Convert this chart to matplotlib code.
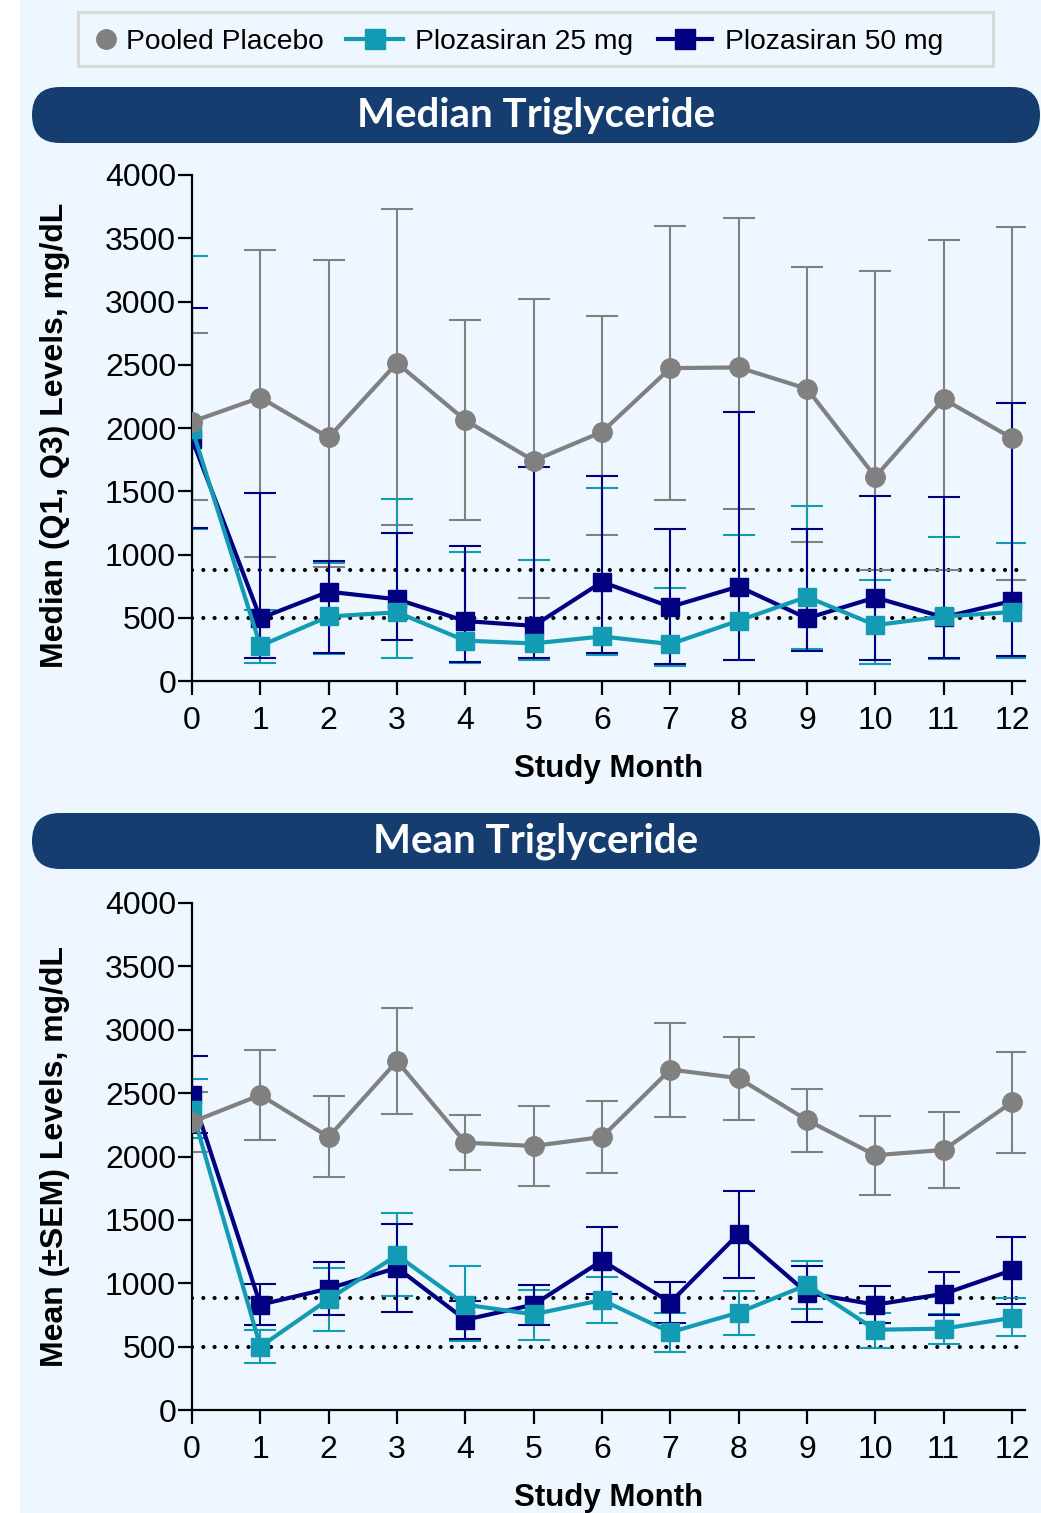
import matplotlib
matplotlib.use("Agg")
import matplotlib.pyplot as plt
import numpy as np
from matplotlib.patches import FancyBboxPatch, Rectangle

plt.rcParams["font.family"] = ["Liberation Sans", "DejaVu Sans"]

months = np.arange(13)

# ---- median triglyceride (Q1, Q3) ----
med_pbo = [2050, 2241, 1925, 2514, 2061, 1742, 1969, 2473, 2479, 2310, 1614, 2228, 1920]
med_pbo_q1 = [1429, 979, 900, 1233, 1271, 654, 1156, 1429, 1361, 1096, 878, 878, 796]
med_pbo_q3 = [2754, 3408, 3330, 3730, 2852, 3021, 2882, 3599, 3659, 3275, 3245, 3488, 3586]

med_25 = [1996, 278, 510, 543, 319, 297, 352, 292, 477, 665, 442, 510, 545]
med_25_q1 = [1200, 142, 210, 183, 142, 169, 205, 120, 169, 251, 136, 177, 183]
med_25_q3 = [3357, 560, 933, 1437, 1023, 960, 1524, 733, 1151, 1382, 796, 1137, 1088]

med_50 = [1914, 496, 706, 646, 474, 436, 783, 586, 747, 496, 660, 504, 633]
med_50_q1 = [1210, 183, 218, 324, 147, 183, 218, 135, 169, 237, 169, 183, 200]
med_50_q3 = [2945, 1486, 952, 1170, 1069, 1688, 1622, 1205, 2124, 1200, 1464, 1456, 2198]

# ---- mean triglyceride (+/- SEM) ----
mean_pbo = [2272, 2485, 2154, 2753, 2109, 2083, 2154, 2686, 2618, 2287, 2010, 2052, 2428]
mean_pbo_lo = [2035, 2129, 1835, 2335, 1897, 1764, 1871, 2315, 2290, 2038, 1696, 1750, 2027]
mean_pbo_hi = [2510, 2841, 2476, 3172, 2324, 2397, 2437, 3053, 2943, 2530, 2321, 2355, 2827]

mean_25 = [2367, 500, 874, 1221, 831, 755, 868, 613, 769, 987, 633, 642, 727]
mean_25_lo = [2146, 373, 622, 896, 543, 551, 684, 458, 594, 797, 492, 523, 580]
mean_25_hi = [2611, 633, 1122, 1555, 1134, 944, 1052, 763, 939, 1179, 769, 760, 882]

mean_50 = [2485, 831, 958, 1122, 712, 831, 1179, 848, 1391, 924, 831, 916, 1103]
mean_50_lo = [2185, 670, 746, 775, 557, 670, 915, 684, 1043, 698, 690, 749, 840]
mean_50_hi = [2793, 995, 1165, 1470, 860, 987, 1442, 1009, 1730, 1136, 978, 1091, 1363]

ref_lines = [880, 500]
yticks = [0, 500, 1000, 1500, 2000, 2500, 3000, 3500, 4000]
labels = ["Pooled Placebo", "Plozasiran 25 mg", "Plozasiran 50 mg"]

BG = "#eef7ff"
BANNER = "#153d6f"
GRAY = "#808080"
TEAL = "#129bb3"
NAVY = "#000080"
FS = 23

W, H = 1041, 1513
fig = plt.figure(figsize=(W / 100, H / 100), dpi=100)
fig.patch.set_facecolor("white")

# pixel-space layer (y measured from the top) for background, banners, legend
deco = fig.add_axes([0, 0, 1, 1], zorder=0)
deco.set_xlim(0, W); deco.set_ylim(0, H); deco.axis("off")
py = lambda y: H - y
deco.add_patch(Rectangle((20, 0), W - 20, H, facecolor=BG, edgecolor="none"))
for top, title in [(87, "Median Triglyceride"), (813, "Mean Triglyceride")]:
    deco.add_patch(FancyBboxPatch((32, py(top + 56)), W - 33, 56,
                                  boxstyle="round,pad=0,rounding_size=28",
                                  facecolor=BANNER, edgecolor="none"))
    deco.text(536, py(top + 28), title, color="white", fontsize=29, fontweight="bold",
              family=["Lato", "DejaVu Sans"], ha="center", va="center")

# legend row
deco.add_patch(Rectangle((78, py(66)), 915, 54, facecolor=BG, edgecolor="#d9d9d9", lw=2.2))
deco.plot([106], [py(39)], "o", color=GRAY, ms=14)
deco.plot([346, 403], [py(39)] * 2, color=TEAL, lw=3)
deco.plot([374.5], [py(39)], "s", color=TEAL, ms=14)
deco.plot([658, 712], [py(39)] * 2, color=NAVY, lw=3)
deco.plot([685], [py(39)], "s", color=NAVY, ms=14)
for x, lab in zip([126, 415, 725], labels):
    deco.text(x, py(39), lab, fontsize=20.3, ha="left", va="center_baseline")


def panel(rect_px, series, ylabel):
    l, t, r, b = rect_px
    ax = fig.add_axes([l / W, 1 - b / H, (r - l) / W, (b - t) / H], zorder=2)
    ax.patch.set_alpha(0)
    for y in ref_lines:
        ax.axhline(y, color="black", lw=3, ls=(0, (0.01, 2.7)),
                   dash_capstyle="round", zorder=1)
    for vals, lo, hi, color, marker in series:
        vals, lo, hi = np.array(vals), np.array(lo), np.array(hi)
        ax.errorbar(months, vals, yerr=[vals - lo, hi - vals], fmt="none",
                    ecolor=color, elinewidth=1.5, capsize=11.5, capthick=1.5, zorder=2)
    # navy under teal, placebo on top
    for z, (vals, lo, hi, color, marker) in enumerate(series[::-1]):
        ax.plot(months, vals, color=color, lw=3, marker=marker,
                ms=14 if marker == "o" else 13.5, zorder=3 + z)
    ax.set_xlim(0, 12.19)
    ax.set_ylim(0, 4000)
    ax.set_xticks(months)
    ax.set_yticks(yticks)
    for s in ["top", "right"]:
        ax.spines[s].set_visible(False)
    for s in ["left", "bottom"]:
        ax.spines[s].set_linewidth(1.6)
    ax.tick_params(axis="both", direction="out", length=10, width=1.6,
                   labelsize=FS, colors="black")
    ax.tick_params(axis="y", pad=1.5)
    ax.tick_params(axis="x", pad=8)
    ax.set_xlabel("Study Month", fontsize=22.5, fontweight="bold", labelpad=13)
    ax.set_ylabel(ylabel, fontsize=FS, fontweight="bold")
    return ax


ax1 = panel((192, 175, 1025, 681),
            [(med_pbo, med_pbo_q1, med_pbo_q3, GRAY, "o"),
             (med_25, med_25_q1, med_25_q3, TEAL, "s"),
             (med_50, med_50_q1, med_50_q3, NAVY, "s")],
            "Median (Q1, Q3) Levels, mg/dL")
ax1.yaxis.set_label_coords(-0.146, 0.485)

ax2 = panel((192, 903, 1025, 1410),
            [(mean_pbo, mean_pbo_lo, mean_pbo_hi, GRAY, "o"),
             (mean_25, mean_25_lo, mean_25_hi, TEAL, "s"),
             (mean_50, mean_50_lo, mean_50_hi, NAVY, "s")],
            "Mean (\u00b1SEM) Levels, mg/dL")
ax2.yaxis.set_label_coords(-0.146, 0.5)

fig.savefig("out.png", dpi=100, facecolor=fig.get_facecolor())
